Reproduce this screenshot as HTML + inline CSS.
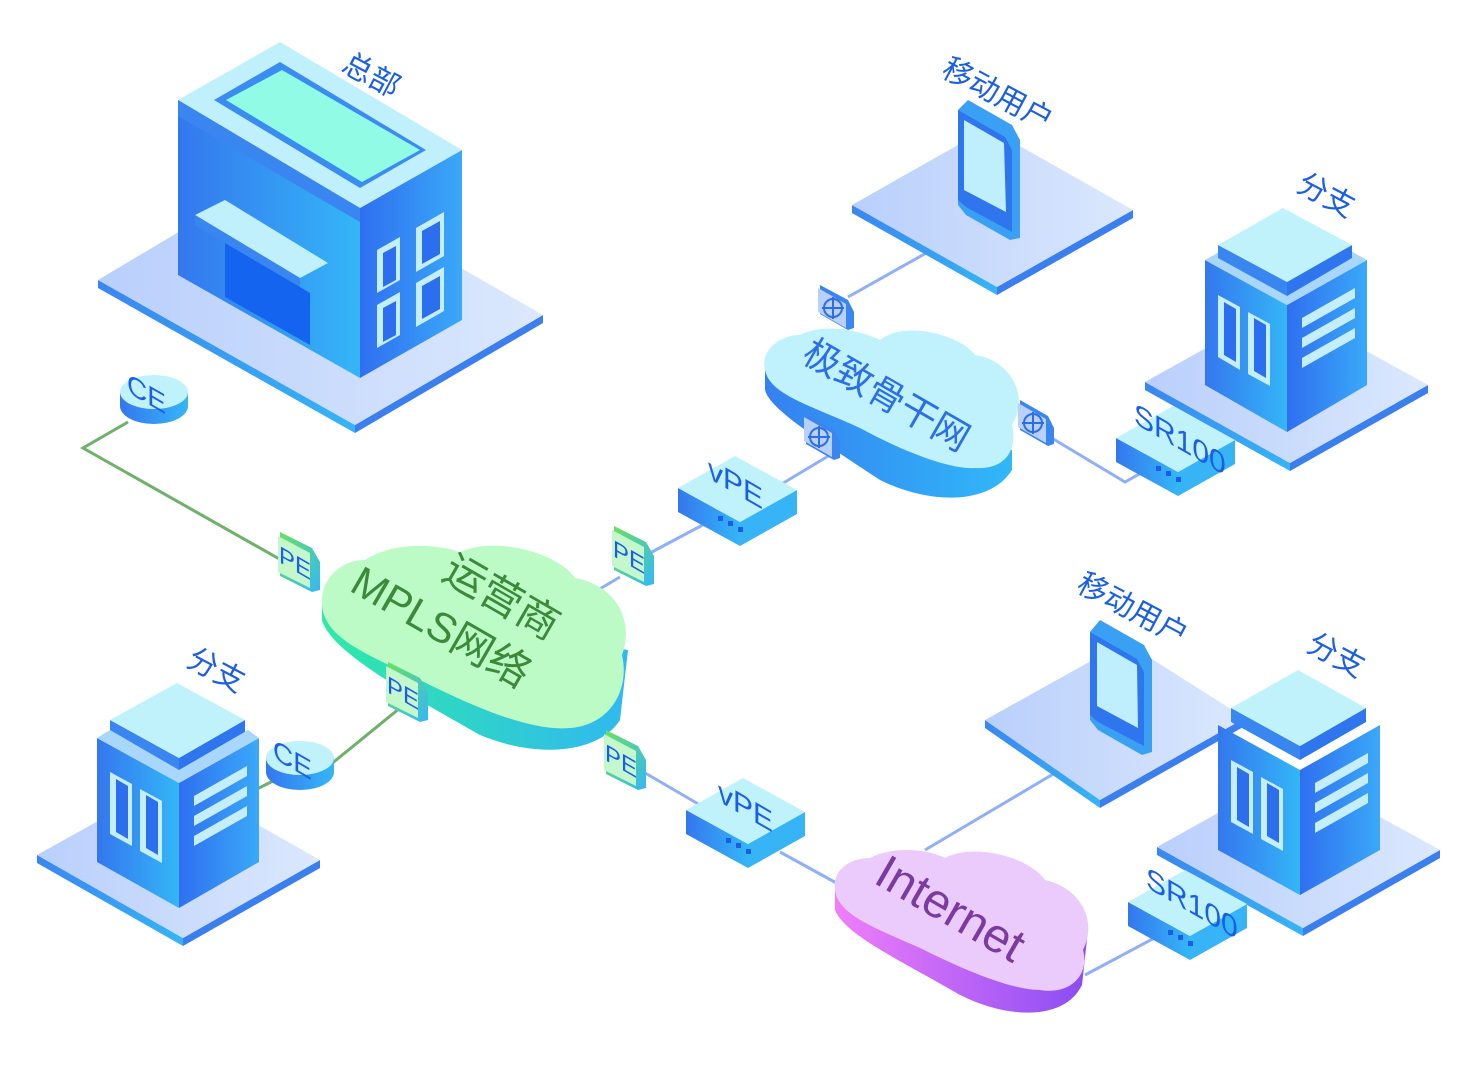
<!DOCTYPE html>
<html><head><meta charset="utf-8"><style>
html,body{margin:0;padding:0;background:#fff;}
svg{display:block;}
text{font-family:"Liberation Sans","Noto Sans CJK SC",sans-serif;}
</style></head><body>
<svg width="1480" height="1088" viewBox="0 0 1480 1088" xmlns="http://www.w3.org/2000/svg">
<defs>
<linearGradient id="plat" x1="0" y1="0" x2="1" y2="0"><stop offset="0" stop-color="#b9cffc"/><stop offset="1" stop-color="#dbe8fd"/></linearGradient>
<linearGradient id="edgeL" x1="0" y1="0" x2="1" y2="0"><stop offset="0" stop-color="#3a86f0"/><stop offset="1" stop-color="#36b4f6"/></linearGradient>
<linearGradient id="bL" x1="0" y1="0" x2="1" y2="0"><stop offset="0" stop-color="#3477ee"/><stop offset="1" stop-color="#34b6f7"/></linearGradient>
<linearGradient id="bR" x1="0" y1="0" x2="1" y2="0"><stop offset="0" stop-color="#2f6ff0"/><stop offset="1" stop-color="#3aa9f8"/></linearGradient>
<linearGradient id="cloudB" x1="0" y1="0" x2="1" y2="0"><stop offset="0" stop-color="#3580f0"/><stop offset="1" stop-color="#30b8f8"/></linearGradient>
<linearGradient id="cloudG" x1="0" y1="0" x2="1" y2="0"><stop offset="0" stop-color="#2eeaa8"/><stop offset="1" stop-color="#30b8f0"/></linearGradient>
<linearGradient id="cloudP" x1="0" y1="0" x2="1" y2="0"><stop offset="0" stop-color="#f07ef8"/><stop offset="1" stop-color="#8a4cf4"/></linearGradient>
<linearGradient id="pe" x1="0" y1="0" x2="1" y2="1"><stop offset="0" stop-color="#6ae060"/><stop offset="1" stop-color="#34b8f6"/></linearGradient>
</defs>

<g fill="none" stroke-width="3">
<polyline points="128,422 83,448 290,565" stroke="#6fb06a"/>
<line x1="330" y1="765" x2="400" y2="708" stroke="#6fb06a"/>
<line x1="255" y1="790" x2="275" y2="780" stroke="#6fb06a"/>
<g stroke="#8fb0f6">
<line x1="598" y1="590" x2="620" y2="577"/>
<line x1="650" y1="553" x2="712" y2="520"/>
<line x1="775" y1="488" x2="830" y2="455"/>
<line x1="848" y1="297" x2="928" y2="252"/>
<polyline points="1050,437 1125,482 1150,468"/>
<line x1="640" y1="770" x2="700" y2="805"/>
<line x1="780" y1="852" x2="840" y2="885"/>
<line x1="925" y1="850" x2="1060" y2="770"/>
<line x1="1085" y1="975" x2="1160" y2="935"/>
</g>
</g>

<polygon points="98,280 355,425 355,433 98,288" fill="url(#edgeL)"/>
<polygon points="355,425 543,315 543,323 355,433" fill="#3a7eef"/>
<polygon points="98,280 286,168 543,315 355,425" fill="url(#plat)"/>
<polygon points="178,100 360,208 360,378 178,275" fill="url(#bL)"/>
<polygon points="360,208 462,150 462,320 360,378" fill="url(#bR)"/>
<polygon points="178,100 280,42 462,150 360,208" fill="#c0f0fc"/>
<polygon points="178,100 360,208 360,222 178,116" fill="#3a86f0"/>
<polygon points="214,100 280,62 426,150 360,188" fill="#3a8cf2"/>
<polygon points="226,100 282,70 420,150 362,182" fill="#92fbe6"/>
<polygon points="195,215 225,200 328,263 300,278" fill="#c0f0fc"/>
<polygon points="195,215 300,278 300,288 195,225" fill="#3a86f0"/>
<polygon points="225,243 310,293 310,345 225,297" fill="#1464f0"/>
<g fill="#c4eefc">
<polygon points="377,250 400,237 400,280 377,293"/><polygon points="416,228 444,212 444,256 416,272"/>
<polygon points="377,305 400,292 400,335 377,348"/><polygon points="416,283 444,267 444,311 416,327"/>
</g>
<g fill="#2c6fee">
<polygon points="383,253 396,246 396,280 383,287"/><polygon points="422,231 440,221 440,254 422,264"/>
<polygon points="383,308 396,301 396,335 383,342"/><polygon points="422,286 440,276 440,309 422,319"/>
</g>
<text transform="translate(340,70) rotate(28)" font-size="30" fill="#1a5ee8">总部</text>

<polygon points="852,205 997,287 997,295 852,213" fill="url(#edgeL)"/>
<polygon points="997,287 1133,210 1133,218 997,295" fill="#3a7eef"/>
<polygon points="852,205 988,128 1133,210 997,287" fill="url(#plat)"/>
<polygon points="958,110 968,100 1012,125 1020,140 1020,238 1010,240 966,215 958,205" fill="#3aa0f4"/>
<polygon points="958,110 1005,137 1012,150 1012,232 966,207 958,200" fill="#2f76ee"/>
<polygon points="964,120 1004,143 1006,212 964,190" fill="#bfeffc"/>
<text transform="translate(940,75) rotate(28)" font-size="30" fill="#1a5ee8">移动用户</text>

<polygon points="1145,382 1290,463 1290,471 1145,390" fill="url(#edgeL)"/>
<polygon points="1290,463 1428,385 1428,393 1290,471" fill="#3a7eef"/>
<polygon points="1145,382 1283,305 1428,385 1290,463" fill="url(#plat)"/>
<polygon points="1205,260 1287,305 1287,432 1205,385" fill="url(#bL)"/>
<polygon points="1287,305 1367,260 1367,385 1287,432" fill="url(#bR)"/>
<polygon points="1205,260 1285,215 1367,260 1287,305" fill="#a9d6fb"/>
<polygon points="1218,245 1287,282 1287,296 1218,258" fill="#3a86f0"/>
<polygon points="1287,282 1352,245 1352,258 1287,296" fill="#2f76ee"/>
<polygon points="1218,245 1283,208 1352,245 1287,282" fill="#c0f2fc"/>
<g fill="#c4eefc"><polygon points="1218,295 1240,307 1240,370 1218,357"/><polygon points="1248,312 1270,324 1270,386 1248,374"/></g>
<g fill="#2c6fee"><polygon points="1224,302 1236,309 1236,362 1224,355"/><polygon points="1254,318 1266,325 1266,378 1254,371"/></g>
<g fill="#c4eefc"><polygon points="1302,318 1355,288 1355,298 1302,328"/><polygon points="1302,338 1355,308 1355,318 1302,348"/><polygon points="1302,358 1355,328 1355,338 1302,368"/></g>
<text transform="translate(1295,190) rotate(28)" font-size="30" fill="#1a5ee8">分支</text>

<path d="M765,370 L765,390 C770,410 820,440 880,480 C930,505 990,505 1012,470 L1012,450 Z" fill="url(#cloudB)"/>
<path d="M800,335 C830,320 870,335 880,340 C905,320 960,335 975,355 C1010,360 1030,395 1012,425 C1018,450 1005,470 975,468 C950,470 900,450 860,428 C810,405 770,395 765,370 C760,350 780,335 800,335 Z" fill="#bff2fc"/>
<text transform="translate(800,360) rotate(30)" font-size="37" fill="#2b6ee8">极致骨干网</text>
<g>
<polygon points="820,285 848,300 854,312 854,328 848,330 820,314" fill="#3a86f0"/>
<polygon points="818,288 846,304 846,328 818,312" fill="#b9cffc"/>
<circle cx="833" cy="308" r="9" fill="none" stroke="#2b6ee8" stroke-width="2"/><path d="M833,297 v22 M822,308 h22" stroke="#2b6ee8" stroke-width="2"/>
<polygon points="806,414 834,430 840,442 840,458 834,460 806,444" fill="#3a86f0"/>
<polygon points="804,417 832,433 832,457 804,441" fill="#b9cffc"/>
<circle cx="819" cy="437" r="9" fill="none" stroke="#2b6ee8" stroke-width="2"/><path d="M819,426 v22 M808,437 h22" stroke="#2b6ee8" stroke-width="2"/>
<polygon points="1020,400 1048,416 1054,428 1054,444 1048,446 1020,430" fill="#3a86f0"/>
<polygon points="1018,403 1046,419 1046,443 1018,427" fill="#b9cffc"/>
<circle cx="1033" cy="423" r="9" fill="none" stroke="#2b6ee8" stroke-width="2"/><path d="M1033,412 v22 M1022,423 h22" stroke="#2b6ee8" stroke-width="2"/>
</g>

<path d="M322,600 L322,620 C330,650 400,690 480,735 C540,760 600,752 620,720 L628,650 Z" fill="url(#cloudG)"/>
<path d="M365,560 C395,540 440,545 460,552 C500,535 560,555 575,578 C615,585 635,620 622,655 C630,690 610,725 570,728 C530,732 470,705 420,680 C370,655 325,640 322,605 C320,580 340,560 365,560 Z" fill="#bdfbc6"/>
<text transform="translate(440,578) rotate(30)" font-size="42" fill="#3a8a3a">运营商</text>
<text transform="translate(348,590) rotate(30)" font-size="42" fill="#3a8a3a">MPLS网络</text>

<path d="M835,890 L835,910 C845,935 900,960 960,995 C1010,1020 1065,1020 1082,985 L1088,930 Z" fill="url(#cloudP)"/>
<path d="M870,858 C895,845 930,850 945,858 C975,842 1030,858 1045,880 C1080,888 1098,920 1083,950 C1090,975 1070,995 1040,990 C1010,990 960,968 920,948 C875,928 838,915 835,890 C832,870 850,858 870,858 Z" fill="#ebcafc"/>
<text transform="translate(872,882) rotate(30)" font-size="48" fill="#7a3aa0">Internet</text>

<polygon points="37,855 183,938 183,946 37,863" fill="url(#edgeL)"/>
<polygon points="183,938 320,860 320,868 183,946" fill="#3a7eef"/>
<polygon points="37,855 175,778 320,860 183,938" fill="url(#plat)"/>
<polygon points="97,738 179,783 179,908 97,862" fill="url(#bL)"/>
<polygon points="179,783 259,738 259,862 179,908" fill="url(#bR)"/>
<polygon points="110,720 179,758 179,772 110,734" fill="#3a86f0"/>
<polygon points="179,758 245,720 245,734 179,772" fill="#2f76ee"/>
<polygon points="110,720 177,683 245,720 179,758" fill="#c0f2fc"/>
<polygon points="97,738 110,730 179,770 248,730 259,738 179,783" fill="#a9d6fb"/>
<g fill="#c4eefc"><polygon points="110,772 132,784 132,846 110,834"/><polygon points="140,789 162,801 162,863 140,851"/></g>
<g fill="#2c6fee"><polygon points="116,779 128,786 128,839 116,832"/><polygon points="146,795 158,802 158,855 146,848"/></g>
<g fill="#c4eefc"><polygon points="194,796 247,766 247,776 194,806"/><polygon points="194,816 247,786 247,796 194,826"/><polygon points="194,836 247,806 247,816 194,846"/></g>
<text transform="translate(185,665) rotate(28)" font-size="30" fill="#1a5ee8">分支</text>

<polygon points="985,720 1100,800 1100,808 985,728" fill="url(#edgeL)"/>
<polygon points="1100,800 1245,718 1245,726 1100,808" fill="#3a7eef"/>
<polygon points="985,720 1125,642 1245,718 1100,800" fill="url(#plat)"/>
<polygon points="1090,632 1100,620 1144,645 1152,660 1152,752 1142,755 1098,730 1090,720" fill="#3aa0f4"/>
<polygon points="1090,632 1137,659 1144,672 1144,746 1098,722 1090,715" fill="#2f76ee"/>
<polygon points="1097,642 1137,665 1138,728 1097,706" fill="#bfeffc"/>
<text transform="translate(1075,590) rotate(28)" font-size="30" fill="#1a5ee8">移动用户</text>

<polygon points="1157,847 1303,928 1303,936 1157,855" fill="url(#edgeL)"/>
<polygon points="1303,928 1440,850 1440,858 1303,936" fill="#3a7eef"/>
<polygon points="1157,847 1295,770 1440,850 1303,928" fill="url(#plat)"/>
<polygon points="1218,725 1300,770 1300,895 1218,850" fill="url(#bL)"/>
<polygon points="1300,770 1380,725 1380,850 1300,895" fill="url(#bR)"/>
<polygon points="1231,708 1300,746 1300,760 1231,722" fill="#3a86f0"/>
<polygon points="1300,746 1366,708 1366,722 1300,760" fill="#2f76ee"/>
<polygon points="1231,708 1298,670 1366,708 1300,746" fill="#c0f2fc"/>
<g fill="#c4eefc"><polygon points="1231,760 1253,772 1253,834 1231,822"/><polygon points="1261,777 1283,789 1283,851 1261,839"/></g>
<g fill="#2c6fee"><polygon points="1237,767 1249,774 1249,827 1237,820"/><polygon points="1267,783 1279,790 1279,843 1267,836"/></g>
<g fill="#c4eefc"><polygon points="1315,783 1368,753 1368,763 1315,793"/><polygon points="1315,803 1368,773 1368,783 1315,813"/><polygon points="1315,823 1368,793 1368,803 1315,833"/></g>
<text transform="translate(1305,650) rotate(28)" font-size="30" fill="#1a5ee8">分支</text>

<g>
<polygon points="678,488 740,522 740,546 678,512" fill="url(#bL)"/>
<polygon points="740,522 797,490 797,514 740,546" fill="#36b4f6"/>
<polygon points="678,488 735,456 797,490 740,522" fill="#c0f2fc"/>
<rect x="718" y="516" width="5" height="5" fill="#1a5ee8"/><rect x="728" y="521" width="5" height="5" fill="#1a5ee8"/><rect x="738" y="527" width="5" height="5" fill="#1a5ee8"/>
<text transform="translate(708,478) skewY(30)" font-size="30" fill="#1a5ee8">vPE</text>
</g>
<g>
<polygon points="686,810 748,844 748,868 686,834" fill="url(#bL)"/>
<polygon points="748,844 805,812 805,836 748,868" fill="#36b4f6"/>
<polygon points="686,810 743,778 805,812 748,844" fill="#c0f2fc"/>
<rect x="726" y="838" width="5" height="5" fill="#1a5ee8"/><rect x="736" y="843" width="5" height="5" fill="#1a5ee8"/><rect x="746" y="849" width="5" height="5" fill="#1a5ee8"/>
<text transform="translate(718,801) skewY(30)" font-size="30" fill="#1a5ee8">vPE</text>
</g>
<g>
<polygon points="1116,438 1178,472 1178,496 1116,462" fill="url(#bL)"/>
<polygon points="1178,472 1235,440 1235,464 1178,496" fill="#36b4f6"/>
<polygon points="1116,438 1173,406 1235,440 1178,472" fill="#c0f2fc"/>
<rect x="1156" y="466" width="5" height="5" fill="#1a5ee8"/><rect x="1166" y="471" width="5" height="5" fill="#1a5ee8"/><rect x="1176" y="477" width="5" height="5" fill="#1a5ee8"/>
<text transform="translate(1134,423) skewY(30)" font-size="30" fill="#1a5ee8">SR100</text>
</g>
<g>
<polygon points="1128,902 1190,936 1190,960 1128,926" fill="url(#bL)"/>
<polygon points="1190,936 1247,904 1247,928 1190,960" fill="#36b4f6"/>
<polygon points="1128,902 1185,870 1247,904 1190,936" fill="#c0f2fc"/>
<rect x="1168" y="930" width="5" height="5" fill="#1a5ee8"/><rect x="1178" y="935" width="5" height="5" fill="#1a5ee8"/><rect x="1188" y="941" width="5" height="5" fill="#1a5ee8"/>
<text transform="translate(1146,887) skewY(30)" font-size="30" fill="#1a5ee8">SR100</text>
</g>

<g>
<path d="M120,392 v14 a34,18 0 0 0 68,0 v-14 z" fill="url(#bL)"/>
<ellipse cx="154" cy="392" rx="34" ry="17" fill="#c0f2fc"/>
<text transform="translate(127,392) skewY(30)" font-size="28" fill="#1a5ee8">CE</text>
</g>
<g>
<path d="M266,758 v14 a34,18 0 0 0 68,0 v-14 z" fill="url(#bL)"/>
<ellipse cx="300" cy="758" rx="34" ry="17" fill="#c0f2fc"/>
<text transform="translate(273,758) skewY(30)" font-size="28" fill="#1a5ee8">CE</text>
</g>

<g>
<polygon points="280,532 312,548 320,562 320,590 312,592 280,576" fill="url(#pe)"/>
<polygon points="278,536 310,553 310,588 278,572" fill="#c4f7cc"/>
<text transform="translate(279,562) skewY(30)" font-size="24" fill="#1a5ee8">PE</text>
</g>
<g>
<polygon points="614,526 646,542 654,556 654,584 646,586 614,570" fill="url(#pe)"/>
<polygon points="612,530 644,547 644,582 612,566" fill="#c4f7cc"/>
<text transform="translate(613,556) skewY(30)" font-size="24" fill="#1a5ee8">PE</text>
</g>
<g>
<polygon points="388,662 420,678 428,692 428,720 420,722 388,706" fill="url(#pe)"/>
<polygon points="386,666 418,683 418,718 386,702" fill="#c4f7cc"/>
<text transform="translate(387,692) skewY(30)" font-size="24" fill="#1a5ee8">PE</text>
</g>
<g>
<polygon points="606,730 638,746 646,760 646,788 638,790 606,774" fill="url(#pe)"/>
<polygon points="604,734 636,751 636,786 604,770" fill="#c4f7cc"/>
<text transform="translate(605,760) skewY(30)" font-size="24" fill="#1a5ee8">PE</text>
</g>
</svg>
</body></html>
